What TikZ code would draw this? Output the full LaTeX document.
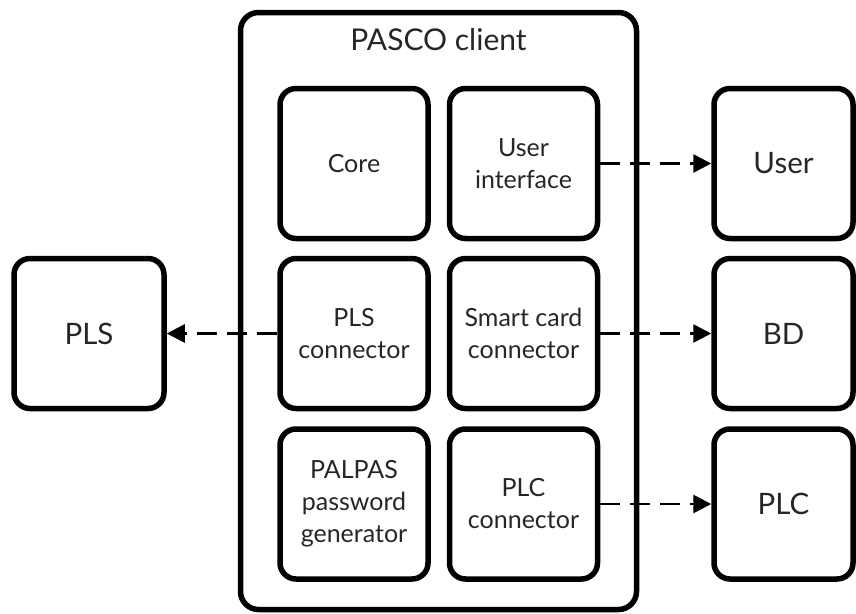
\documentclass[tikz,border=0pt]{standalone}
\usepackage{fontspec}
\setmainfont{Lato}
\usetikzlibrary{arrows.meta}
\begin{document}
\begin{tikzpicture}[x=1pt,y=-1pt,
  block/.style={draw=black,line width=5.5pt,rounded corners=16pt,
    minimum width=148pt,minimum height=150pt,align=center,
    text=black!85,font=\fontsize{25}{32}\selectfont},
  bigblock/.style={block,font=\fontsize{29.5}{34}\selectfont},
  conn/.style={line width=2.7pt,dash pattern=on 20pt off 10pt,
    -{Triangle[length=18pt,width=18pt]}}]
\useasboundingbox (0,0) rectangle (856,613);

% container of the client modules
\node[draw=black,line width=5.5pt,rounded corners=18pt,
  minimum width=396pt,minimum height=597pt] (client) at (438.5,311) {};
\node[text=black!85,font=\fontsize{30}{34}\selectfont] (title) at (438.5,40) {PASCO client};

% modules inside the client
\node[block] (core) at (354,163.5) {Core};
\node[block] (ui) at (523.5,163.5) {User\\interface};
\node[block] (plsc) at (354,333.5) {PLS\\connector};
\node[block] (scc) at (523.5,333.5) {Smart card\\connector};
\node[block] (palpas) at (354,504) {PALPAS\\password\\generator};
\node[block] (plcc) at (523.5,504) {PLC\\connector};

% external parties
\node[bigblock,minimum width=139pt] (user) at (783.5,163.5) {User};
\node[bigblock,minimum width=139pt] (bd) at (783.5,333.5) {BD};
\node[bigblock,minimum width=139pt] (plc) at (783.5,504) {PLC};
\node[bigblock,minimum width=150pt] (pls) at (89,333.5) {PLS};

% dashed links
\draw[conn] (ui.east) -- (user.west);
\draw[conn] (scc.east) -- (bd.west);
\draw[conn] (plcc.east) -- (plc.west);
\draw[conn] (plsc.west) -- (pls.east);
\end{tikzpicture}
\end{document}
